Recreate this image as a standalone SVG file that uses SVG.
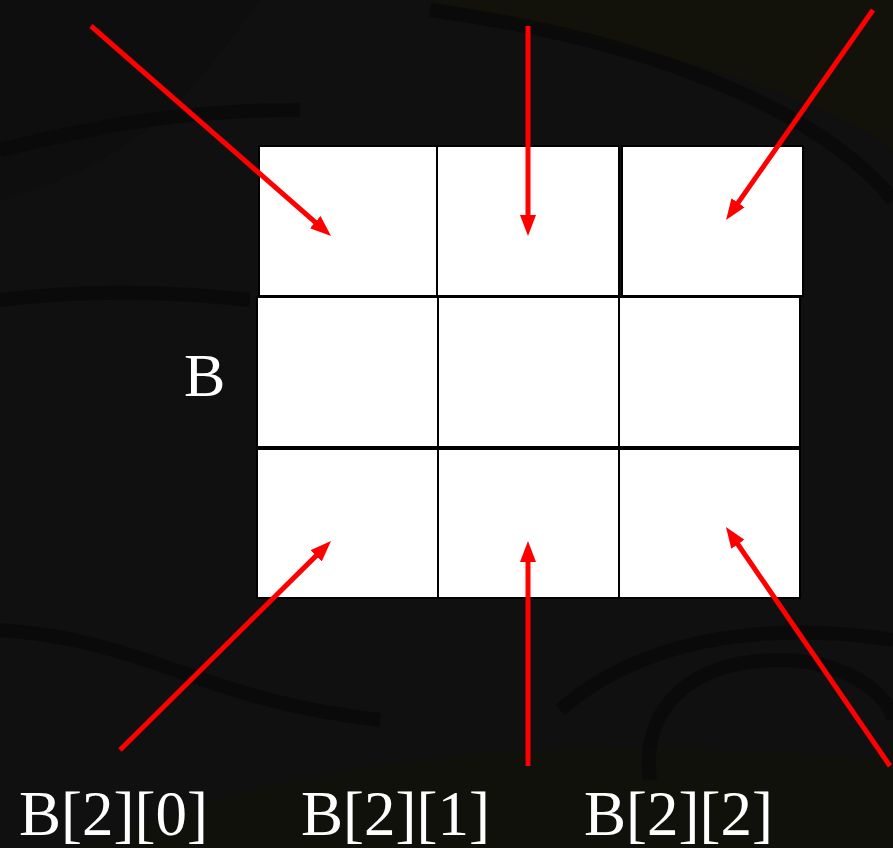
<svg xmlns="http://www.w3.org/2000/svg" width="893" height="848" viewBox="0 0 893 848">
<style>
.cell{fill:#ffffff;stroke:#000000;stroke-width:2}
.arrow{stroke:#ff0000;stroke-width:5;fill:none;marker-end:url(#head)}
.lbl{font-family:"Liberation Serif","Times New Roman",serif;font-size:63px;fill:#ffffff}
.bg{fill:none;stroke:#080808;stroke-width:14;opacity:0.7}
</style>
<defs>
<marker id="head" markerUnits="userSpaceOnUse" markerWidth="22" markerHeight="18" refX="1" refY="8" orient="auto">
<path d="M0,0 L21,8 L0,16 z" fill="#ff0000"/>
</marker>
</defs>
<g id="background">
<rect x="0" y="0" width="893" height="848" fill="#101010"/>
<path d="M430,0 C600,40 800,80 893,150 L893,0 Z" fill="#12120b"/>
<path d="M0,0 L260,0 C200,80 150,160 0,200 Z" fill="#0e0e0e"/>
<path d="M80,848 C300,760 500,730 893,760 L893,848 Z" fill="#11110c"/>
<path class="bg" d="M430,10 C650,40 820,110 893,200"/>
<path class="bg" d="M0,150 C120,120 200,110 300,110"/>
<path class="bg" d="M0,300 C80,290 160,290 250,300"/>
<path class="bg" d="M560,710 C640,640 760,620 893,640"/>
<path class="bg" d="M650,780 C640,700 700,660 780,660 C850,660 893,700 893,720"/>
<path class="bg" d="M0,630 C150,640 200,700 380,720"/>
</g>
<g id="grid">
<rect id="cell-0-0" class="cell" x="259" y="146" width="178" height="150"/>
<rect id="cell-0-1" class="cell" x="437" y="146" width="182" height="150"/>
<rect id="cell-0-2" class="cell" x="622" y="146" width="181" height="150"/>
<rect id="cell-1-0" class="cell" x="257" y="297" width="181" height="150"/>
<rect id="cell-1-1" class="cell" x="438" y="297" width="181" height="150"/>
<rect id="cell-1-2" class="cell" x="619" y="297" width="181" height="150"/>
<rect id="cell-2-0" class="cell" x="257" y="449" width="181" height="149"/>
<rect id="cell-2-1" class="cell" x="438" y="449" width="181" height="149"/>
<rect id="cell-2-2" class="cell" x="619" y="449" width="181" height="149"/>
</g>
<g id="connectors">
<line class="arrow" x1="91" y1="26" x2="316" y2="222.8"/>
<line class="arrow" x1="528" y1="26" x2="528" y2="216"/>
<line class="arrow" x1="873" y1="10" x2="737.5" y2="203.6"/>
<line class="arrow" x1="120" y1="750" x2="316.8" y2="555.1"/>
<line class="arrow" x1="528" y1="766" x2="528" y2="561"/>
<line class="arrow" x1="890" y1="766" x2="737.3" y2="543.5"/>
</g>
<g id="labels">
<text id="label-B" class="lbl" x="184" y="396" style="font-size:62px">B</text>
<text id="label-B20" class="lbl" x="19" y="835">B[2][0]</text>
<text id="label-B21" class="lbl" x="301" y="835">B[2][1]</text>
<text id="label-B22" class="lbl" x="584" y="835">B[2][2]</text>
</g>
</svg>
